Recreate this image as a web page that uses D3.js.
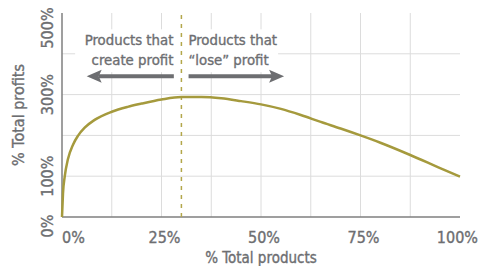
<!DOCTYPE html>
<html lang="en">
<head>
<meta charset="UTF-8">
<title>Profit curve</title>
<script src="https://d3js.org/d3.v7.min.js"></script>
<style>
  body { margin: 0; background: #fff; }
  text { font-family: "DejaVu Sans Condensed", "Liberation Sans Narrow", sans-serif; fill: #6d6e71; stroke: #6d6e71; stroke-width: 0.35; }
  .grid line { stroke: #dcdcdc; stroke-width: 1; }
</style>
</head>
<body>
<div id="chart"></div>
<script>
// cumulative share of products (%) vs cumulative share of total profits (%)
const productPct = [0, 0.25, 0.7, 1.5, 2.8, 4, 5.7, 8.2, 12.5, 16.5, 20, 25, 30, 35, 40, 45, 50, 55, 60, 65, 70, 75, 80, 87.5, 95, 100];
const profitPct  = [0, 58, 100, 142, 178, 199, 219, 238, 258, 270, 278, 288, 294, 294, 291, 284, 276, 265, 250, 233, 217, 200, 182, 152, 120, 99];

const xTicks = [0, 25, 50, 75, 100];
const yTicks = [0, 100, 300, 500];
const xGrid = [12.5, 25, 37.5, 50, 62.5, 75, 87.5];
const yGrid = [100, 200, 300, 400];
const splitAt = 30;
const leftLabel = ["Products that", "create profit"];
const rightLabel = ["Products that", "\u201Close\u201D profit"];

const width = 478, height = 266;
const margin = { top: 13, right: 18, bottom: 49, left: 62 };

const x = d3.scaleLinear().domain([0, 100]).range([margin.left, width - margin.right]);
const y = d3.scaleLinear().domain([0, 500]).range([height - margin.bottom, margin.top]);

const svg = d3.select("#chart").append("svg")
    .attr("width", width)
    .attr("height", height);

// gridlines
const grid = svg.append("g").attr("class", "grid");
grid.selectAll(".v").data(xGrid).enter().append("line")
    .attr("x1", d => x(d)).attr("x2", d => x(d))
    .attr("y1", y(0)).attr("y2", y(500));
grid.selectAll(".h").data(yGrid).enter().append("line")
    .attr("x1", x(0)).attr("x2", x(100))
    .attr("y1", d => y(d)).attr("y2", d => y(d));

// white box behind the annotation text
svg.append("rect")
    .attr("x", x(3.3)).attr("y", y(460))
    .attr("width", x(54.3) - x(3.3))
    .attr("height", y(355) - y(460))
    .attr("fill", "#fff");

// axis lines
svg.append("line")
    .attr("x1", x(0)).attr("x2", x(0))
    .attr("y1", y(0)).attr("y2", y(500))
    .attr("stroke", "#7f7f7f").attr("stroke-width", 1.5);
svg.append("line")
    .attr("x1", x(0)).attr("x2", x(100))
    .attr("y1", y(0)).attr("y2", y(0))
    .attr("stroke", "#7f7f7f").attr("stroke-width", 1.5);

// split line
svg.append("line")
    .attr("x1", x(splitAt)).attr("x2", x(splitAt))
    .attr("y1", y(0)).attr("y2", y(500))
    .attr("stroke", "#b3a74a").attr("stroke-width", 1.5)
    .attr("stroke-dasharray", "4,5");

// curve
const pts = productPct.map((p, i) => [p, profitPct[i]]);
const line = d3.line()
    .x(d => x(d[0]))
    .y(d => y(d[1]))
    .curve(d3.curveMonotoneX);
svg.append("path")
    .datum(pts)
    .attr("d", line)
    .attr("fill", "none")
    .attr("stroke", "#a59a3d")
    .attr("stroke-width", 2.5);

// annotation text
const ann = svg.append("g").attr("font-size", 14.8);
leftLabel.forEach((t, i) => {
    ann.append("text")
        .attr("x", x(splitAt) - 8)
        .attr("y", 45 + i * 20)
        .attr("text-anchor", "end")
        .text(t);
});
rightLabel.forEach((t, i) => {
    ann.append("text")
        .attr("x", x(splitAt) + 7)
        .attr("y", 45 + i * 20)
        .attr("text-anchor", "start")
        .text(t);
});

// arrows
const arrowY = y(345);
function arrow(from, to) {
    const x0 = x(from), x1 = x(to);
    const dir = Math.sign(x1 - x0);
    const headLen = 14, headHalf = 6.5;
    const base = x1 - dir * headLen;
    svg.append("line")
        .attr("x1", x0).attr("x2", base + dir * 2)
        .attr("y1", arrowY).attr("y2", arrowY)
        .attr("stroke", "#6d6e71").attr("stroke-width", 4);
    svg.append("path")
        .attr("d", `M${x1},${arrowY} L${base - dir * 1},${arrowY - headHalf} L${base + dir * 2},${arrowY} L${base - dir * 1},${arrowY + headHalf} Z`)
        .attr("fill", "#6d6e71");
}
arrow(splitAt - 1.9, 6.2);
arrow(splitAt + 1.8, 55.8);

// x tick labels
svg.selectAll(".xt").data(xTicks).enter().append("text")
    .attr("x", d => d === 0 ? x(d) : d === 100 ? width : x(d) + 3)
    .attr("y", y(0) + 26)
    .attr("text-anchor", d => d === 0 ? "start" : d === 100 ? "end" : "middle")
    .attr("font-size", 16)
    .text(d => d + "%");

// y tick labels (rotated)
svg.selectAll(".yt").data(yTicks).enter().append("text")
    .attr("transform", d => {
        let yy = y(d);
        if (d === 0) yy += 9;
        if (d === 500) yy += 15;
        return `translate(${x(0) - 9},${yy}) rotate(-90)`;
    })
    .attr("text-anchor", "middle")
    .attr("font-size", 16)
    .text(d => d + "%");

// axis titles
svg.append("text")
    .attr("x", (x(0) + x(100)) / 2)
    .attr("y", height - 3)
    .attr("text-anchor", "middle")
    .attr("font-size", 15)
    .text("% Total products");
svg.append("text")
    .attr("transform", `translate(24,${(y(0) + y(500)) / 2}) rotate(-90)`)
    .attr("text-anchor", "middle")
    .attr("font-size", 16)
    .text("% Total profits");
</script>
</body>
</html>
